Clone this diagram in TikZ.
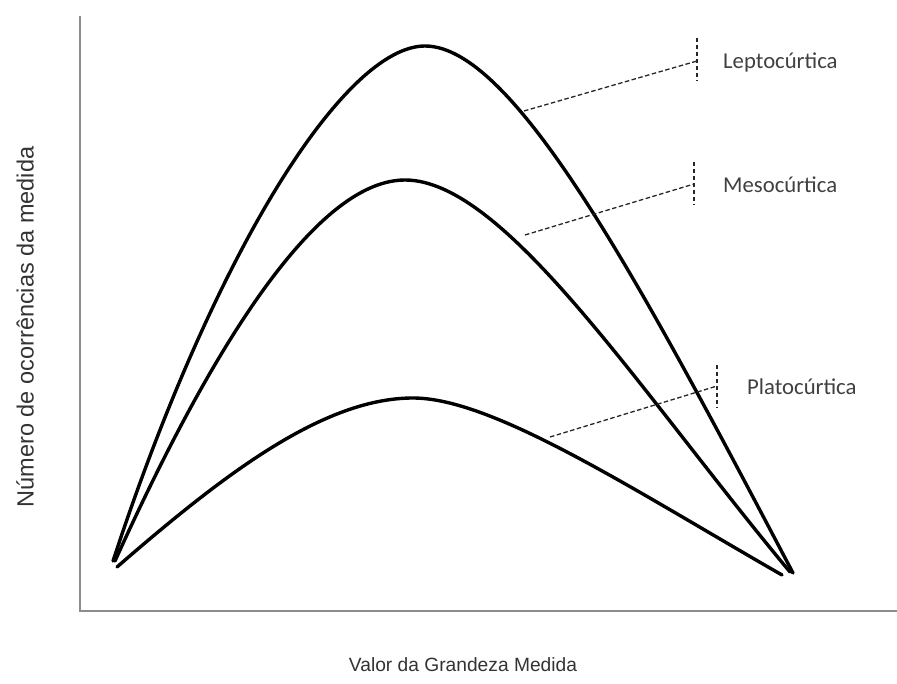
\documentclass[tikz,border=0pt]{standalone}
\usepackage{fontspec}
\setmainfont{Liberation Sans}
\newfontfamily\calfont{Carlito}
\begin{document}
\begin{tikzpicture}[x=1pt,y=-1pt,
  axisline/.style={draw=black!45,line width=2.2pt},
  curveline/.style={draw=black,line width=3.4pt,line cap=round,line join=round},
  leader/.style={draw=black!85,line width=1.3pt,dash pattern=on 4.5pt off 2.5pt},
  lbl/.style={font=\calfont\fontsize{22.7}{26}\selectfont,text=black!75,anchor=west,inner sep=0pt},
  axlbl/.style={text=black!80,inner sep=0pt}]
\useasboundingbox (0,0) rectangle (897,684);
% axes
\coordinate (ytop) at (80,16);
\coordinate (orig) at (80,611);
\coordinate (xend) at (897,611);
\draw[axisline] (ytop) -- (orig) -- (xend);
% curve end points and peaks
\coordinate (ls) at (113,561); \coordinate (lp) at (425,46); \coordinate (le) at (793,573);
\coordinate (ms) at (115,561); \coordinate (mp) at (405,180); \coordinate (me) at (790,572);
\coordinate (ps) at (117,567); \coordinate (pp) at (413,398); \coordinate (pe) at (782,575);
% curves
\draw[curveline] (ls) .. controls (215,250) and (345,46) .. (lp)
                      .. controls (515,46) and (643,288) .. (le);
\draw[curveline] (ms) .. controls (191,393) and (305,180) .. (mp)
                      .. controls (505,180) and (640,392) .. (me);
\draw[curveline] (ps) .. controls (223,475) and (323,398) .. (pp)
                      .. controls (493,398) and (632,489) .. (pe);
% leaders
\coordinate (l1a) at (524,111); \coordinate (l1b) at (697,61);
\coordinate (l1t) at (697,38); \coordinate (l1u) at (697,81);
\coordinate (l2a) at (525,235); \coordinate (l2b) at (694,184);
\coordinate (l2t) at (694,162); \coordinate (l2u) at (694,205);
\coordinate (l3a) at (550,437); \coordinate (l3b) at (717,386);
\coordinate (l3t) at (717,365); \coordinate (l3u) at (717,408);
\draw[leader] (l1a) -- (l1b); \draw[leader] (l1t) -- (l1u);
\draw[leader] (l2a) -- (l2b); \draw[leader] (l2t) -- (l2u);
\draw[leader] (l3a) -- (l3b); \draw[leader] (l3t) -- (l3u);
% labels
\node[lbl] (lepto) at (723,62) {Leptocúrtica};
\node[lbl] (meso) at (723,185) {Mesocúrtica};
\node[lbl] (plato) at (747,387) {Platocúrtica};
\node[axlbl,font=\fontsize{19.2}{22}\selectfont] (xlab) at (463,665) {Valor da Grandeza Medida};
\node[axlbl,font=\fontsize{23.5}{26}\selectfont,rotate=90] (ylab) at (25,327) {Número de ocorrências da medida};
\end{tikzpicture}
\end{document}
